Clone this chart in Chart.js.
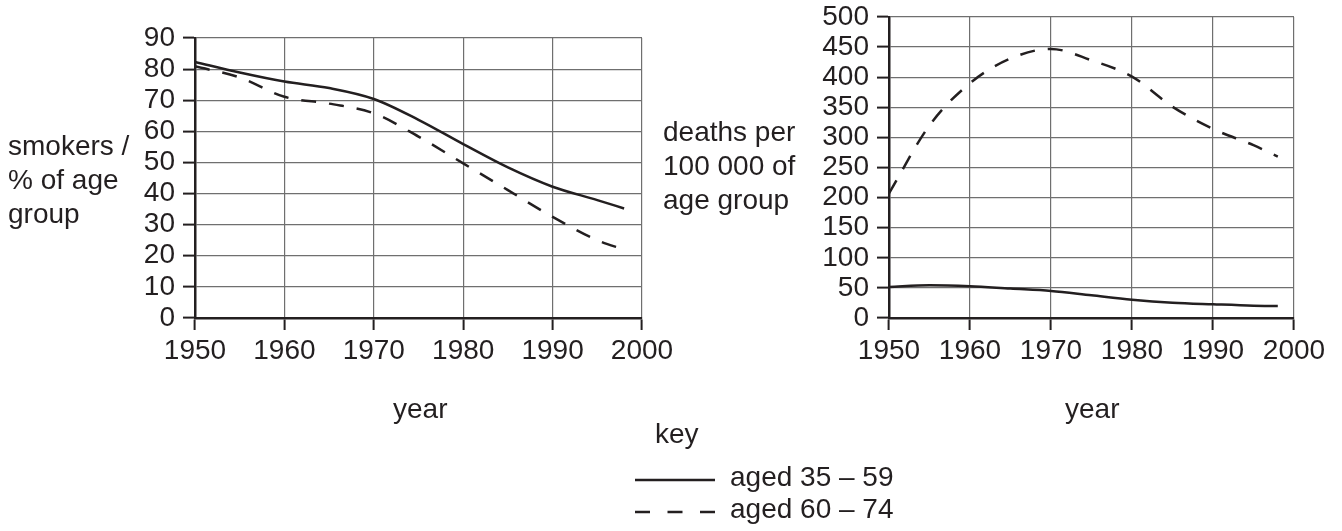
<!DOCTYPE html>
<html>
<head>
<meta charset="utf-8">
<script src="https://cdn.jsdelivr.net/npm/chart.js@4/dist/chart.umd.min.js"></script>
<style>
  html, body { margin: 0; padding: 0; background: #fff; }
  body { width: 1342px; height: 531px; position: relative; overflow: hidden;
         font-family: "Liberation Sans", Arial, sans-serif; color: #231f20; }
  canvas { position: absolute; left: 0; top: 0; }
  .lbl { position: absolute; font-size: 28px; line-height: 34px; white-space: nowrap; }
</style>
</head>
<body>
<canvas id="smokersChart" width="1342" height="531"></canvas>
<canvas id="deathsChart" width="1342" height="531"></canvas>

<div class="lbl" style="left:8px; top:129px;">smokers /<br>% of age<br>group</div>
<div class="lbl" style="left:663px; top:115px;">deaths per<br>100 000 of<br>age group</div>
<div class="lbl" style="left:393px; top:392px;">year</div>
<div class="lbl" style="left:1065px; top:392px;">year</div>
<div class="lbl" style="left:655px; top:417px;">key</div>
<svg style="position:absolute; left:630px; top:468px;" width="90" height="50">
  <line x1="5" y1="12" x2="85" y2="12" stroke="#231f20" stroke-width="2.5"/>
  <line x1="5" y1="44" x2="85" y2="44" stroke="#231f20" stroke-width="2.5" stroke-dasharray="15 17.5"/>
</svg>
<div class="lbl" style="left:730px; top:460px;">aged 35 – 59</div>
<div class="lbl" style="left:730px; top:492px;">aged 60 – 74</div>

<script>
Chart.defaults.color = '#231f20'
Chart.defaults.font.family = '"Liberation Sans", Arial, sans-serif'
Chart.defaults.font.size = 28

// years the curves were read at
const years = [1950, 1955, 1960, 1965, 1970, 1975, 1980, 1985, 1990, 1995, 1998];

// smokers, % of age group
const smokers35to59 = [82.3, 78.9, 76.0, 73.9, 70.4, 63.7, 55.9, 48.4, 42.2, 37.9, 35.2];
const smokers60to74 = [80.9, 77.3, 71.1, 68.9, 65.8, 58.3, 49.7, 41.1, 32.5, 25.0, 22.0];

// deaths per 100 000 of age group
const deaths35to59 = [51.6, 54.4, 52.7, 48.8, 45.0, 37.7, 30.5, 25.5, 22.8, 20.5, 20.0];
const deaths60to74 = [207, 320, 390, 431, 447, 428, 401, 351, 314, 287, 268];

// axis ticks
const yearTicks = [1950, 1960, 1970, 1980, 1990, 2000];
const smokersMax = 90, smokersStep = 10;
const deathsMax = 500, deathsStep = 50;

const ink = '#231f20';
const toPoints = vals => vals.map((v, i) => ({ x: years[i], y: v }));

const lineSet = (label, vals, dash) => ({
    label: label,
    data: toPoints(vals),
    borderColor: ink,
    borderWidth: 2.5,
    borderDash: dash,
    pointRadius: 0,
    fill: false,
    cubicInterpolationMode: 'monotone'
});

const gridStyle = { color: '#6f6f6f', lineWidth: 1.2, tickLength: 12, tickColor: ink, tickWidth: 2 };

const makeChart = (id, solid, dashed, yMax, yStep, yWidth, padding) => {
    const ctx = document.getElementById(id).getContext('2d');
    return new Chart(ctx, {
        type: 'line',
        data: {
            datasets: [
                lineSet('aged 35 – 59', solid, []),
                lineSet('aged 60 – 74', dashed, [15, 13])
            ]
        },
        options: {
            responsive: false,
            animation: false,
            devicePixelRatio: 1,
            layout: { padding: padding },
            plugins: { legend: { display: false }, tooltip: { enabled: false } },
            scales: {
                x: {
                    type: 'linear',
                    min: yearTicks[0],
                    max: yearTicks[yearTicks.length - 1],
                    afterBuildTicks: axis => { axis.ticks = yearTicks.map(v => ({ value: v })) },
                    afterFit: axis => { axis.height = 60; axis.paddingLeft = 0; axis.paddingRight = 0 },
                    ticks: { callback: v => String(v), padding: 4, maxRotation: 0, autoSkip: false, color: ink },
                    grid: gridStyle,
                    border: { color: ink, width: 2.5 }
                },
                y: {
                    min: 0,
                    max: yMax,
                    // keep the plot box where the padding puts it
                    afterFit: axis => { axis.width = yWidth; axis.paddingTop = 0; axis.paddingBottom = 0 },
                    ticks: { stepSize: yStep, padding: 8, autoSkip: false, color: ink },
                    grid: gridStyle,
                    border: { color: ink, width: 2.5 }
                }
            }
        }
    });
};

makeChart('smokersChart', smokers35to59, smokers60to74, smokersMax, smokersStep, 60,
    { left: 135, right: 700, top: 38, bottom: 153 });
makeChart('deathsChart', deaths35to59, deaths60to74, deathsMax, deathsStep, 80,
    { left: 809, right: 48, top: 17, bottom: 153 });
</script>
</body>
</html>
